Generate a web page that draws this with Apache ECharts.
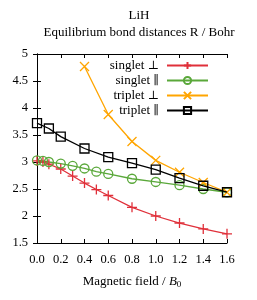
<!DOCTYPE html>
<html><head><meta charset="utf-8">
<script src="https://cdn.jsdelivr.net/npm/echarts@6/dist/echarts.min.js"></script>
<style>html,body{margin:0;padding:0;background:#fff}#c{width:257px;height:300px}</style>
</head><body><div id="c"></div>
<script>
var titleLines = ['LiH', 'Equilibrium bond distances R / Bohr'];
var xTicks = [0, 0.2, 0.4, 0.6, 0.8, 1.0, 1.2, 1.4, 1.6];
var yTicks = [1.5, 2, 2.5, 3, 3.5, 4, 4.5, 5];
var seriesNames = ['singlet ⊥', 'singlet ∥', 'triplet ⊥', 'triplet ∥'];
var singletPerpX = [0, 0.05, 0.1, 0.2, 0.3, 0.4, 0.5, 0.6, 0.8, 1.0, 1.2, 1.4, 1.6];
var singletPerpY = [3.02, 3.0, 2.96, 2.87, 2.74, 2.61, 2.49, 2.38, 2.16, 2.0, 1.87, 1.76, 1.67];
var singletParX = [0, 0.05, 0.1, 0.2, 0.3, 0.4, 0.5, 0.6, 0.8, 1.0, 1.2, 1.4, 1.6];
var singletParY = [3.03, 3.02, 3.0, 2.97, 2.93, 2.88, 2.82, 2.78, 2.69, 2.63, 2.57, 2.5, 2.44];
var tripletPerpX = [0.4, 0.6, 0.8, 1.0, 1.2, 1.4, 1.6];
var tripletPerpY = [4.77, 3.88, 3.38, 3.03, 2.81, 2.62, 2.44];
var tripletParX = [0, 0.1, 0.2, 0.4, 0.6, 0.8, 1.0, 1.2, 1.4, 1.6];
var tripletParY = [3.72, 3.62, 3.47, 3.25, 3.09, 2.98, 2.86, 2.7, 2.56, 2.44];

var FONT = '"Liberation Serif", "DejaVu Serif", serif';
function pairs(xs, ys) { return xs.map(function (x, i) { return [x, ys[i]]; }); }
var colors = ['#e0303a', '#5aa83a', '#ffa500', '#000000'];
var symbols = ['path://M5,0L5,10M0,5L10,5', 'circle', 'path://M0,0L10,10M0,10L10,0', 'rect'];
var datas = [pairs(singletPerpX, singletPerpY), pairs(singletParX, singletParY), pairs(tripletPerpX, tripletPerpY), pairs(tripletParX, tripletParY)];
var series = seriesNames.map(function (n, i) {
  return {
    name: n, type: 'line', data: datas[i], symbol: symbols[i],
    symbolSize: i === 0 ? 10 : 9,
    showAllSymbol: true,
    lineStyle: { color: colors[i], width: 1.3 },
    itemStyle: { color: 'rgba(0,0,0,0)', borderColor: colors[i], borderWidth: 1.3 },
    emphasis: { disabled: true },
    animation: false, z: i === 3 ? 3 : 2
  };
});
var legendTops = [59, 74, 89, 104];
var legends = seriesNames.map(function (n, i) {
  return {
    data: [n], right: 48, top: legendTops[i], align: 'right', orient: 'vertical',
    itemWidth: 41, itemHeight: 9, itemGap: 0, padding: 0,
    formatter: function (name) {
      var k = name.lastIndexOf(' ');
      return '{t|' + name.slice(0, k + 1) + '}{s|' + name.slice(k + 1) + '}';
    },
    textStyle: { fontFamily: FONT, fontSize: 13, color: '#000', padding: [0, 3, 0, 0],
      rich: {
        t: { fontFamily: FONT, fontSize: 13, color: '#000' },
        s: { fontFamily: '"DejaVu Serif"', fontSize: 12, color: '#000' }
      } },
    selectedMode: false
  };
});
var chart = echarts.init(document.getElementById('c'), null, { renderer: 'canvas' });
chart.setOption({
  animation: false,
  title: {
    text: titleLines.join('\n'), left: 134, top: 2, textAlign: 'center',
    textStyle: { fontFamily: FONT, fontSize: 13, fontWeight: 'normal', color: '#000', lineHeight: 17 }
  },
  legend: legends,
  grid: { left: 37, right: 30, top: 54, bottom: 57, containLabel: false },
  xAxis: [{
    type: 'value', min: xTicks[0], max: xTicks[xTicks.length - 1], interval: 0.2,
    name: '{n|Magnetic field / }{i|B}{s|0}', nameLocation: 'middle', nameGap: 32,
    nameTextStyle: { rich: {
      n: { fontFamily: FONT, fontSize: 13, color: '#000' },
      i: { fontFamily: FONT, fontSize: 13, fontStyle: 'italic', color: '#000' },
      s: { fontFamily: FONT, fontSize: 9, color: '#000', verticalAlign: 'bottom', padding: [5, 0, 0, 0] }
    } },
    axisLine: { lineStyle: { color: '#000', width: 1 } },
    axisTick: { inside: true, length: 4, lineStyle: { color: '#000' } },
    axisLabel: { fontFamily: FONT, fontSize: 12.5, color: '#000', margin: 10, formatter: function (v) { return v.toFixed(1); } },
    splitLine: { show: false }
  }, {
    type: 'value', position: 'top', min: xTicks[0], max: xTicks[xTicks.length - 1], interval: 0.2,
    axisLine: { show: true, lineStyle: { color: '#000', width: 1 } },
    axisTick: { show: true, inside: true, length: 4, lineStyle: { color: '#000' } },
    axisLabel: { show: false }, splitLine: { show: false }
  }],
  yAxis: [{
    type: 'value', min: yTicks[0], max: yTicks[yTicks.length - 1], interval: 0.5,
    axisLine: { show: true, lineStyle: { color: '#000', width: 1 } },
    axisTick: { show: true, inside: true, length: 4, lineStyle: { color: '#000' } },
    axisLabel: { fontFamily: FONT, fontSize: 12.5, color: '#000', margin: 9 },
    splitLine: { show: false }
  }, {
    type: 'value', position: 'right', min: yTicks[0], max: yTicks[yTicks.length - 1], interval: 0.5,
    axisLine: { show: true, lineStyle: { color: '#000', width: 1 } },
    axisTick: { show: true, inside: true, length: 4, lineStyle: { color: '#000' } },
    axisLabel: { show: false }, splitLine: { show: false }
  }],
  series: series
});
</script></body></html>
